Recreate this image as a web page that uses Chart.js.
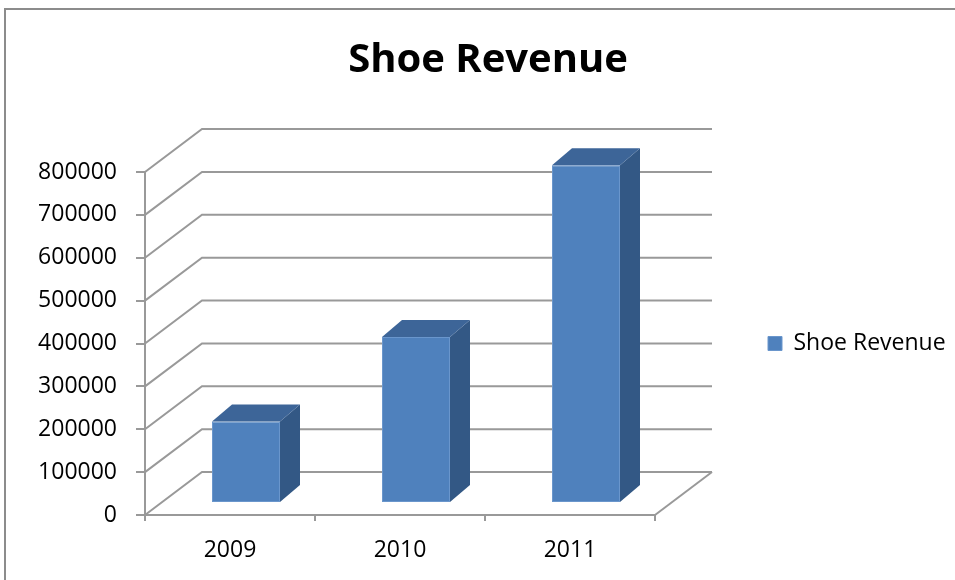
<!DOCTYPE html>
<html>
<head>
<meta charset="utf-8">
<script src="https://cdn.jsdelivr.net/npm/chart.js@4"></script>
<style>
  body { margin: 0; background: #fff; }
  canvas { display: block; }
</style>
</head>
<body>
<canvas id="shoeChart" width="955" height="580"></canvas>
<script>
// data
const years = ['2009', '2010', '2011'];
const revenue = [190000, 387000, 788000];
const seriesName = 'Shoe Revenue';
const yMin = 0;
const yMax = 800000;
const yStep = 100000;

// fake 3D: wall depth, bar offset inside the box and bar depth
const wall = { dx: 57, dy: 43 };
const shift = { dx: 16, dy: 12 };
const depth = { dx: 20, dy: 17 };
const lineGray = '#999999';

const fake3d = {
    id: 'fake3d',
    afterLayout(chart) {
        // the boxes are narrow because of the paddings; stop them clipping their text
        chart.legend.right = chart.width;
        chart.scales.y.left = 0;
    },
    beforeDraw(chart) {
        const ctx = chart.ctx;
        ctx.save();
        ctx.strokeStyle = '#8c8c8c';
        ctx.lineWidth = 2;
        ctx.strokeRect(5, 9, 1000, 1000);
        ctx.restore();
    },
    beforeDatasetsDraw(chart) {
        const ctx = chart.ctx;
        const area = chart.chartArea;
        const y = chart.scales.y;
        ctx.save();
        ctx.strokeStyle = lineGray;
        ctx.lineWidth = 2;
        y.ticks.forEach(t => {
            const py = y.getPixelForValue(t.value);
            ctx.beginPath();
            ctx.moveTo(area.left, py);
            ctx.lineTo(area.left + wall.dx, py - wall.dy);
            ctx.lineTo(area.right + wall.dx, py - wall.dy);
            ctx.stroke();
        });
        // right edge of the floor
        ctx.beginPath();
        ctx.moveTo(area.right, area.bottom);
        ctx.lineTo(area.right + wall.dx, area.bottom - wall.dy);
        ctx.stroke();
        ctx.restore();

        ctx.save();
        ctx.translate(shift.dx, -shift.dy);
    },
    afterDatasetsDraw(chart) {
        const ctx = chart.ctx;
        chart.getDatasetMeta(0).data.forEach(bar => {
            const { x, y, width, base } = bar.getProps(['x', 'y', 'width', 'base'], true);
            const l = x - width / 2;
            const r = x + width / 2;
            // side face
            ctx.fillStyle = '#335885';
            ctx.beginPath();
            ctx.moveTo(r, y);
            ctx.lineTo(r + depth.dx, y - depth.dy);
            ctx.lineTo(r + depth.dx, base - depth.dy);
            ctx.lineTo(r, base);
            ctx.closePath();
            ctx.fill();
            // top face
            ctx.fillStyle = '#3d6598';
            ctx.beginPath();
            ctx.moveTo(l, y);
            ctx.lineTo(l + depth.dx, y - depth.dy);
            ctx.lineTo(r + depth.dx, y - depth.dy);
            ctx.lineTo(r, y);
            ctx.closePath();
            ctx.fill();
        });
        ctx.restore();
    }
};

Chart.defaults.font.family = '"Open Sans", sans-serif';
Chart.defaults.color = '#000';

const ctx = document.getElementById('shoeChart').getContext('2d');

const shoeChart = new Chart(ctx, {
    type: 'bar',
    data: {
        labels: years,
        datasets: [{
            label: seriesName,
            data: revenue,
            backgroundColor: '#4f81bd',
            borderColor: '#6a96cc',
            borderWidth: 1,
            borderSkipped: false,
            categoryPercentage: 0.8,
            barPercentage: 0.5,
            clip: false
        }]
    },
    options: {
        responsive: false,
        animation: false,
        // paddings picked so the title centres at x=488 and the legend starts at x=758
        layout: { padding: { left: 83, right: 62, top: 0, bottom: 0 } },
        plugins: {
            title: {
                display: true,
                text: seriesName,
                font: { size: 40, weight: 'bold' },
                color: '#000',
                padding: { top: 37, bottom: 87 }
            },
            legend: {
                position: 'right',
                fullSize: false,
                labels: {
                    boxWidth: 14,
                    boxHeight: 14,
                    padding: 10,
                    font: { size: 23 },
                    color: '#000'
                }
            },
            tooltip: { enabled: false }
        },
        scales: {
            x: {
                grid: { drawOnChartArea: false, tickLength: 6, color: lineGray, lineWidth: 2 },
                border: { color: lineGray, width: 2 },
                ticks: { font: { size: 23 }, padding: 16 },
                afterFit: s => { s.height = 65; }
            },
            y: {
                min: yMin,
                max: yMax,
                grid: { drawOnChartArea: false, tickLength: 9, color: lineGray, lineWidth: 2 },
                border: { color: lineGray, width: 2 },
                ticks: { stepSize: yStep, font: { size: 23 }, padding: 19, callback: v => String(v) },
                afterFit: s => { s.width = 62; }
            },
            // empty axis: room for the back wall between plot and legend
            gap: {
                position: 'right',
                min: 0,
                max: 1,
                grid: { display: false },
                border: { display: false },
                ticks: { display: false },
                afterFit: s => { s.width = 103; }
            }
        }
    },
    plugins: [fake3d]
});
</script>
</body>
</html>
